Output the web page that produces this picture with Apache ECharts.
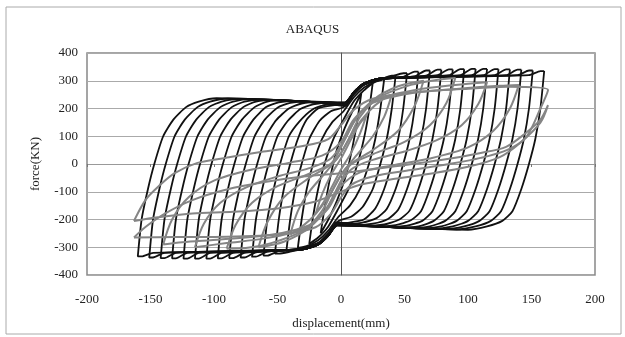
<!DOCTYPE html>
<html><head><meta charset="utf-8">
<script src="https://cdn.jsdelivr.net/npm/echarts@6/dist/echarts.min.js"></script>
<style>html,body{margin:0;padding:0;background:#fff}#c{width:625px;height:337px}</style>
</head><body><div id="c"></div>
<script>
const titleText = 'ABAQUS';
const xName = 'displacement(mm)';
const yName = 'force(KN)';
const xTicks = [-200, -150, -100, -50, 0, 50, 100, 150, 200];
const yTicks = [-400, -300, -200, -100, 0, 100, 200, 300, 400];

// black (analysis) loops, displacement [mm], force [kN]
const black160 = [[160,335],[157,200],[153,90],[148,0],[142,-90],[135,-170],[127,-205],[115,-225],[100,-237],[-3,-222],[-10,-258],[-18,-290],[-30,-308],[-148,-320],[-157,-333],[-160,-333],
  [-157,-200],[-152,-90],[-147,0],[-140,100],[-132,160],[-122,205],[-112,225],[-98,237],[3,222],[10,258],[18,290],[30,308],[148,320],[157,335],[160,335]];
const black151 = [[151,337],[148,200],[144,90],[139,0],[133,-90],[126,-170],[118,-205],[106,-225],[91,-236],[-3,-221],[-10,-258],[-18,-290],[-30,-308],[-139,-320],[-148,-337],[-151,-337],
  [-148,-200],[-143,-90],[-138,0],[-131,100],[-123,160],[-113,205],[-103,225],[-89,236],[3,221],[10,258],[18,290],[30,308],[139,320],[148,337],[151,337]];
const black142 = [[142,340],[139,200],[135,90],[130,0],[124,-90],[117,-170],[109,-205],[97,-225],[82,-235],[-3,-220],[-10,-258],[-18,-290],[-30,-308],[-130,-320],[-139,-339],[-142,-339],
  [-139,-200],[-134,-90],[-129,0],[-122,100],[-114,160],[-104,205],[-94,225],[-80,235],[3,220],[10,258],[18,290],[30,308],[130,320],[139,340],[142,340]];
const black133 = [[133,341],[130,200],[126,90],[121,0],[115,-90],[108,-170],[100,-205],[88,-225],[73,-234],[-3,-219],[-10,-258],[-18,-290],[-30,-308],[-121,-320],[-130,-340],[-133,-340],
  [-130,-200],[-125,-90],[-120,0],[-113,100],[-105,160],[-95,205],[-85,225],[-71,234],[3,219],[10,258],[18,290],[30,308],[121,320],[130,341],[133,341]];
const black124 = [[124,342],[121,200],[117,90],[112,0],[106,-90],[99,-170],[91,-205],[79,-225],[64,-232],[-3,-217],[-10,-258],[-18,-290],[-30,-308],[-112,-320],[-121,-341],[-124,-341],
  [-121,-200],[-116,-90],[-111,0],[-104,100],[-96,160],[-86,205],[-76,225],[-62,232],[3,217],[10,258],[18,290],[30,308],[112,320],[121,342],[124,342]];
const black115 = [[115,343],[112,200],[108,90],[103,0],[97,-90],[90,-170],[82,-205],[70,-225],[55,-231],[-3,-216],[-10,-258],[-18,-290],[-30,-308],[-103,-320],[-112,-341],[-115,-341],
  [-112,-200],[-107,-90],[-102,0],[-95,100],[-87,160],[-77,205],[-67,225],[-53,231],[3,216],[10,258],[18,290],[30,308],[103,320],[112,343],[115,343]];
const black106 = [[106,343],[103,200],[99,90],[94,0],[88,-90],[81,-170],[73,-205],[61,-225],[46,-229],[-3,-214],[-10,-258],[-18,-290],[-30,-308],[-94,-320],[-103,-341],[-106,-341],
  [-103,-200],[-98,-90],[-93,0],[-86,100],[-78,160],[-68,205],[-58,225],[-44,229],[3,214],[10,258],[18,290],[30,308],[94,320],[103,343],[106,343]];
const black97 = [[97,342],[94,200],[90,90],[85,0],[79,-90],[72,-170],[64,-205],[52,-222],[37,-227],[-3,-212],[-10,-258],[-18,-290],[-30,-308],[-85,-320],[-94,-340],[-97,-340],
  [-94,-200],[-89,-90],[-84,0],[-77,100],[-69,160],[-59,205],[-49,222],[-35,227],[3,212],[10,258],[18,290],[30,308],[85,320],[94,342],[97,342]];
const black88 = [[88,341],[85,200],[81,90],[76,0],[70,-90],[63,-170],[55,-203],[43,-220],[28,-225],[-3,-210],[-10,-256],[-18,-288],[-30,-307],[-76,-320],[-85,-339],[-88,-339],
  [-85,-200],[-80,-90],[-75,0],[-68,100],[-60,160],[-50,203],[-40,220],[-26,225],[3,210],[10,256],[18,288],[30,307],[76,320],[85,341],[88,341]];
const black79 = [[79,340],[76,200],[72,90],[67,0],[61,-90],[54,-168],[46,-200],[34,-218],[19,-223],[-3,-210],[-10,-255],[-18,-287],[-30,-306],[-67,-318],[-76,-337],[-79,-337],
  [-76,-200],[-71,-90],[-66,0],[-59,100],[-51,158],[-41,200],[-31,218],[-17,223],[3,210],[10,255],[18,287],[30,306],[67,318],[76,340],[79,340]];
const black70 = [[70,337],[67,200],[63,90],[58,0],[52,-90],[45,-165],[37,-198],[25,-215],[10,-221],[-3,-210],[-10,-254],[-18,-286],[-30,-305],[-58,-316],[-67,-334],[-70,-334],
  [-67,-200],[-62,-90],[-57,0],[-50,100],[-42,155],[-32,198],[-22,215],[-8,221],[3,210],[10,254],[18,286],[30,305],[58,316],[67,337],[70,337]];
const black61 = [[61,333],[58,200],[54,90],[49,0],[43,-90],[36,-162],[28,-195],[16,-212],[3,-217],[-3,-212],[-10,-253],[-18,-285],[-30,-304],[-49,-314],[-58,-330],[-61,-330],
  [-58,-200],[-53,-90],[-48,0],[-41,100],[-33,152],[-23,195],[-13,212],[-3,217],[3,212],[10,253],[18,285],[30,304],[49,314],[58,333],[61,333]];
const black52 = [[52,327],[49,200],[45,90],[40,0],[34,-90],[27,-160],[18,-200],[5,-212],[-3,-215],[-10,-258],[-18,-290],[-30,-306],[-40,-316],[-49,-323],[-52,-323],
  [-49,-200],[-45,-90],[-40,0],[-34,90],[-27,160],[-18,200],[-5,212],[3,215],[10,258],[18,290],[30,306],[40,316],[49,327],[52,327]];
const black43 = [[43,318],[40,200],[36,90],[31,0],[25,-90],[17,-155],[8,-190],[-2,-205],[-10,-250],[-18,-285],[-30,-302],[-40,-313],[-43,-313],
  [-40,-200],[-36,-90],[-31,0],[-25,90],[-17,155],[-8,190],[2,205],[10,250],[18,285],[30,302],[40,318],[43,318]];
const black34 = [[34,306],[31,200],[27,90],[22,0],[15,-90],[7,-150],[-2,-190],[-10,-240],[-18,-275],[-27,-296],[-34,-302],
  [-31,-200],[-27,-90],[-22,0],[-15,90],[-7,150],[2,190],[10,240],[18,275],[27,296],[34,306]];
const black25 = [[25,292],[22,190],[18,90],[13,0],[6,-90],[-2,-160],[-10,-225],[-18,-265],[-25,-288],
  [-22,-190],[-18,-90],[-13,0],[-6,90],[2,160],[10,225],[18,265],[25,292]];
const black16 = [[16,255],[13,160],[9,60],[4,-40],[-3,-130],[-10,-200],[-16,-250],
  [-13,-160],[-9,-60],[-4,40],[3,130],[10,200],[16,255]];

// grey (test) loops
const grey20 = [[-20,-180],[-15,-110],[-8,-40],[0,20],[8,90],[14,140],[20,175],[15,110],[8,40],[0,-20],[-8,-90],[-14,-140],[-20,-180]];
const grey40 = [[-40,-255],[-34,-170],[-25,-100],[-12,-30],[0,40],[10,120],[22,190],[32,230],[40,250],[34,170],[25,100],[12,30],[0,-40],[-10,-120],[-22,-190],[-32,-230],[-40,-255]];
const grey65 = [[-65,-300],[-58,-210],[-45,-120],[-25,-50],[-8,0],[0,60],[10,150],[25,230],[45,280],[65,300],
  [58,210],[45,120],[25,50],[8,0],[0,-60],[-10,-150],[-25,-230],[-45,-280],[-65,-300]];
const grey90 = [[-90,-305],[-83,-220],[-70,-140],[-50,-80],[-25,-35],[-5,10],[5,80],[15,170],[30,240],[55,285],[75,303],[90,310],
  [83,220],[70,140],[50,80],[25,35],[5,-10],[-5,-80],[-15,-170],[-30,-240],[-55,-285],[-75,-303],[-90,-305]];
const grey115 = [[-115,-300],[-108,-215],[-95,-140],[-75,-85],[-50,-45],[-25,-15],[-8,20],[3,90],[14,180],[30,235],[60,268],[90,285],[115,295],
  [108,215],[95,140],[75,85],[50,45],[25,15],[8,-20],[-3,-90],[-14,-180],[-30,-235],[-60,-268],[-90,-285],[-115,-300]];
const grey140 = [[-140,-290],[-133,-200],[-120,-120],[-100,-60],[-70,-20],[-40,5],[-15,30],[0,80],[10,160],[25,220],[55,255],[95,272],[125,282],[140,285],
  [133,200],[120,120],[100,60],[70,20],[40,-5],[15,-30],[0,-80],[-10,-160],[-25,-220],[-55,-255],[-95,-272],[-125,-282],[-140,-290]];
const grey163a = [[-163,-205],[-154,-130],[-144,-82],[-131,-33],[-113,4],[-91,22],[-61,45],[-30,65],[-10,90],[0,140],[10,195],[25,235],[55,258],[95,270],[131,278],[163,267],
  [157,200],[146,98],[131,51],[110,22],[85,0],[55,-22],[25,-45],[8,-75],[0,-120],[-8,-180],[-20,-228],[-45,-252],[-90,-262],[-130,-263],[-163,-265]];
const grey163b = [[-163,-265],[-154,-227],[-138,-177],[-117,-130],[-90,-92],[-60,-65],[-30,-45],[0,-33],[40,-10],[80,15],[110,40],[130,62],[145,110],[157,160],[163,212],
  [157,149],[141,76],[125,25],[100,-10],[70,-35],[40,-55],[15,-75],[0,-100],[-20,-135],[-50,-160],[-85,-172],[-117,-178],[-144,-192],[-163,-205]];

const blackLoops = [black160, black151, black142, black133, black124, black115, black106, black97, black88, black79, black70, black61, black52, black43, black34, black25, black16];
const greyLoops = [grey20, grey40, grey65, grey90, grey115, grey140, grey163a, grey163b];

const FONT = 'Liberation Serif';
const chart = echarts.init(document.getElementById('c'));
const series = [];
blackLoops.forEach(d => series.push({type:'line', data:d, showSymbol:false, smooth:0.2, z:3,
  lineStyle:{color:'#111', width:1.8}, silent:true, animation:false}));
greyLoops.forEach(d => series.push({type:'line', data:d, showSymbol:false, smooth:0.3, z:4,
  lineStyle:{color:'#858585', width:2}, silent:true, animation:false}));

chart.setOption({
  animation:false,
  backgroundColor:'#fff',
  title:{text:titleText, left:'center', top:18, textStyle:{fontFamily:FONT, fontSize:13, fontWeight:'normal', color:'#222'}},
  grid:{left:87, top:53, width:508, height:222, show:true, borderColor:'#888', borderWidth:1.5, backgroundColor:'transparent'},
  graphic:[{type:'rect', shape:{x:6, y:7, width:615, height:327}, style:{fill:'none', stroke:'#aaa', lineWidth:1}, silent:true}],
  xAxis:[
    {type:'value', min:xTicks[0], max:xTicks[xTicks.length-1], interval:50, name:xName, nameLocation:'middle', nameGap:42,
     nameTextStyle:{fontFamily:FONT, fontSize:13, color:'#222'},
     axisLine:{show:false}, axisTick:{show:false}, splitLine:{show:false},
     axisLabel:{fontFamily:FONT, fontSize:13, color:'#222', margin:18}},
    {type:'value', min:xTicks[0], max:xTicks[xTicks.length-1], interval:50, position:'bottom',
     axisLine:{show:true, onZero:true, onZeroAxisIndex:0, lineStyle:{color:'#999', width:1}},
     axisTick:{show:true, length:3, lineStyle:{color:'#777'}}, axisLabel:{show:false}, splitLine:{show:false}}
  ],
  yAxis:[
    {type:'value', min:yTicks[0], max:yTicks[yTicks.length-1], interval:100, name:yName, nameLocation:'middle', nameGap:45,
     nameTextStyle:{fontFamily:FONT, fontSize:13, color:'#222'},
     axisLine:{show:false}, axisTick:{show:false},
     splitLine:{lineStyle:{color:'#aaa', width:1}},
     axisLabel:{fontFamily:FONT, fontSize:13, color:'#222', margin:9}},
    {type:'value', min:yTicks[0], max:yTicks[yTicks.length-1], interval:100, position:'left',
     axisLine:{show:true, onZero:true, onZeroAxisIndex:0, lineStyle:{color:'#555', width:1}},
     axisTick:{show:false}, axisLabel:{show:false}, splitLine:{show:false}}
  ],
  series: series
});
</script></body></html>
